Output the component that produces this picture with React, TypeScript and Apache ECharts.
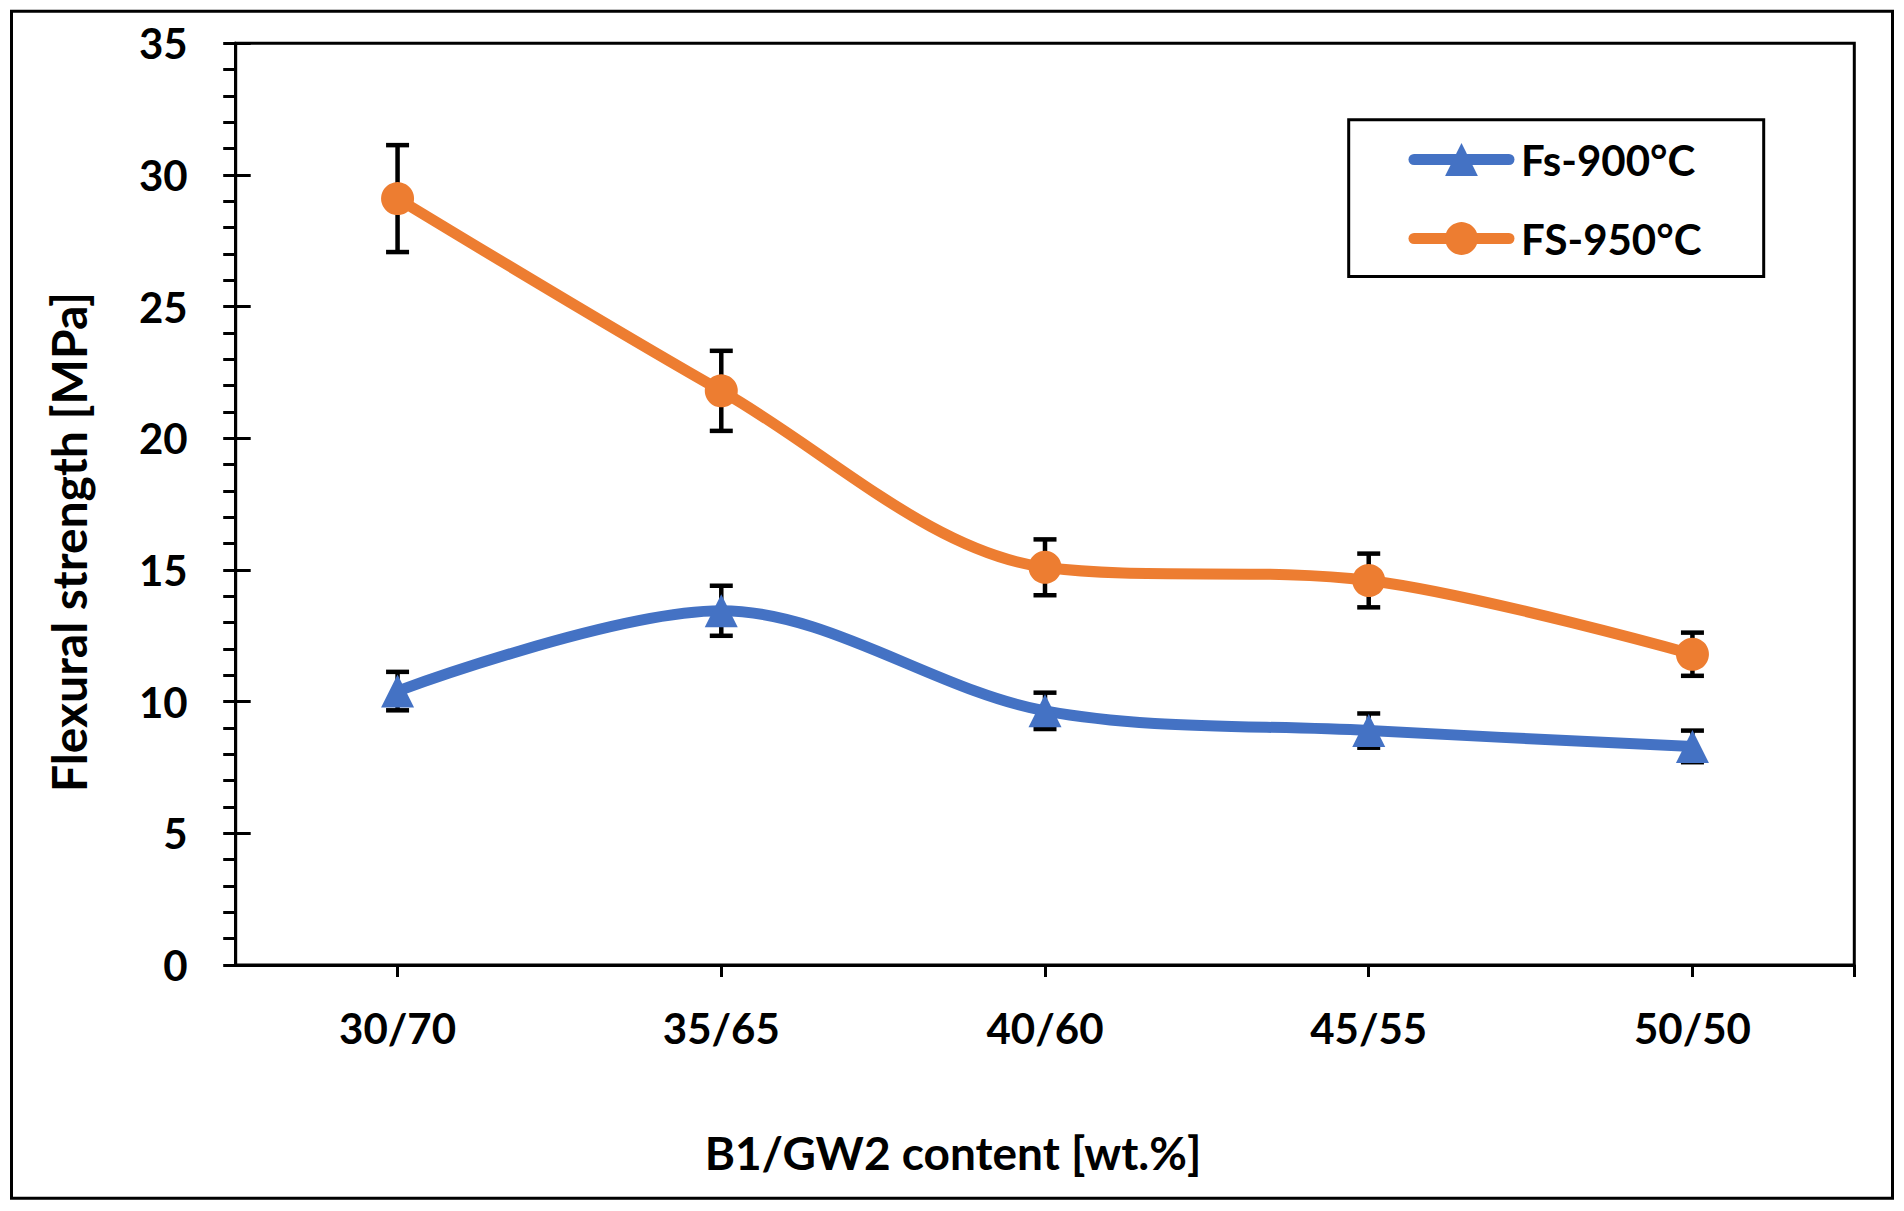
import React, { useEffect, useRef } from "react";
import * as echarts from "echarts";

const categories = ["30/70", "35/65", "40/60", "45/55", "50/50"];
const fs900Values = [10.4, 13.45, 9.65, 8.9, 8.3];
const fs900Errors = [0.73, 0.95, 0.69, 0.65, 0.6];
const fs950Values = [29.1, 21.8, 15.1, 14.6, 11.8];
const fs950Errors = [2.03, 1.52, 1.06, 1.02, 0.82];
const seriesNames = ["Fs-900°C", "FS-950°C"];
const yMin = 0;
const yMax = 35;
const yStep = 5;
const xTitle = "B1/GW2 content [wt.%]";
const yTitle = "Flexural strength [MPa]";

const FONT = "Lato";
const BLUE = "#4472C4";
const ORANGE = "#ED7D31";

function errorData(values: number[], errs: number[]) {
  return values.map((v, i) => [i, v - errs[i], v + errs[i]]);
}

function errorRender(params: any, api: any) {
  const x = api.value(0);
  const lo = api.coord([x, api.value(1)]);
  const hi = api.coord([x, api.value(2)]);
  const half = 11.5;
  const style = { stroke: "#000", lineWidth: 4.5, fill: "none" };
  return {
    type: "group",
    children: [
      { type: "line", shape: { x1: lo[0], y1: lo[1], x2: hi[0], y2: hi[1] }, style },
      { type: "line", shape: { x1: lo[0] - half, y1: lo[1], x2: lo[0] + half, y2: lo[1] }, style },
      { type: "line", shape: { x1: hi[0] - half, y1: hi[1], x2: hi[0] + half, y2: hi[1] }, style },
    ],
  };
}

export default function App() {
  const ref = useRef<HTMLDivElement>(null);
  useEffect(() => {
    document.body.style.margin = "0";
    if (!ref.current) return;
    const chart = echarts.init(ref.current, null, { renderer: "svg" });
    const labelFont = { fontFamily: FONT, fontWeight: "bold" as const, fontSize: 42, color: "#000" };
    const titleStyle = {
      fontFamily: FONT,
      fontWeight: "bold",
      fill: "#000",
      textAlign: "center",
      textVerticalAlign: "middle",
    };
    chart.setOption({
      animation: false,
      backgroundColor: "#fff",
      grid: {
        left: 235.7,
        top: 43.2,
        width: 1618.6,
        height: 921.8,
        show: true,
        borderColor: "#000",
        borderWidth: 3,
        containLabel: false,
      },
      legend: {
        show: true,
        orient: "vertical",
        left: 1408.5,
        top: 138.5,
        padding: 0,
        itemWidth: 95,
        itemHeight: 41,
        itemGap: 37,
        lineStyle: { width: 11, cap: "round" },
        textStyle: { ...labelFont, lineHeight: 41, padding: [0, 0, 0, 7] },
        data: seriesNames,
      },
      xAxis: [
        {
          type: "category",
          data: categories,
          boundaryGap: true,
          axisLine: { show: true, lineStyle: { color: "#000", width: 3 } },
          axisTick: { show: true, alignWithLabel: true, length: 12, lineStyle: { color: "#000", width: 3 } },
          axisLabel: { ...labelFont, margin: 42, interval: 0 },
          splitLine: { show: false },
        },
        {
          type: "value",
          min: 0,
          max: 1,
          position: "bottom",
          axisLine: { show: false },
          axisTick: { show: true, customValues: [1], length: 12, lineStyle: { color: "#000", width: 3 } },
          axisLabel: { show: false },
          splitLine: { show: false },
        },
      ],
      yAxis: [
        {
          type: "value",
          min: yMin,
          max: yMax,
          interval: yStep,
          position: "left",
          axisLine: { show: true, lineStyle: { color: "#000", width: 3 } },
          axisTick: { show: true, length: 12.5, lineStyle: { color: "#000", width: 3 } },
          minorTick: { show: true, splitNumber: 5, length: 12.5, lineStyle: { color: "#000", width: 3 } },
          axisLabel: { ...labelFont, margin: 48 },
          splitLine: { show: false },
        },
        {
          type: "value",
          min: yMin,
          max: yMax,
          interval: yStep,
          position: "left",
          offset: 0,
          axisLine: { show: true, lineStyle: { color: "#000", width: 3 } },
          axisTick: { show: true, inside: true, length: 15, lineStyle: { color: "#000", width: 3 } },
          axisLabel: { show: false },
          splitLine: { show: false },
        },
      ],
      graphic: [
        {
          type: "rect",
          shape: { x: 11.5, y: 11.3, width: 1881, height: 1187 },
          style: { fill: "none", stroke: "#000", lineWidth: 3 },
          silent: true,
          z: 0,
        },
        {
          type: "rect",
          shape: { x: 1348.7, y: 119.8, width: 415, height: 156.7 },
          style: { fill: "none", stroke: "#000", lineWidth: 3 },
          silent: true,
          z: 10,
        },
        {
          type: "text",
          x: 953,
          y: 1152,
          style: { text: xTitle, fontSize: 46, ...titleStyle },
        },
        {
          type: "text",
          x: 68,
          y: 542,
          rotation: Math.PI / 2,
          style: { text: yTitle, fontSize: 48, ...titleStyle },
        },
      ],
      series: [
        {
          name: "err900",
          type: "custom",
          renderItem: errorRender,
          data: errorData(fs900Values, fs900Errors),
          encode: { x: 0, y: [1, 2] },
          z: 1,
          silent: true,
        },
        {
          name: "err950",
          type: "custom",
          renderItem: errorRender,
          data: errorData(fs950Values, fs950Errors),
          encode: { x: 0, y: [1, 2] },
          z: 1,
          silent: true,
        },
        {
          name: seriesNames[0],
          type: "line",
          data: fs900Values,
          smooth: 0.33,
          symbol: "triangle",
          symbolSize: 33,
          color: BLUE,
          itemStyle: { color: BLUE },
          lineStyle: { color: BLUE, width: 11, cap: "round" },
          z: 3,
        },
        {
          name: seriesNames[1],
          type: "line",
          data: fs950Values,
          smooth: 0.33,
          symbol: "circle",
          symbolSize: 33,
          color: ORANGE,
          itemStyle: { color: ORANGE },
          lineStyle: { color: ORANGE, width: 11, cap: "round" },
          z: 3,
        },
      ],
    });
    return () => chart.dispose();
  }, []);
  return (
    <div
      ref={ref}
      style={{ position: "fixed", left: 0, top: 0, width: 1904, height: 1211, background: "#fff" }}
    />
  );
}
